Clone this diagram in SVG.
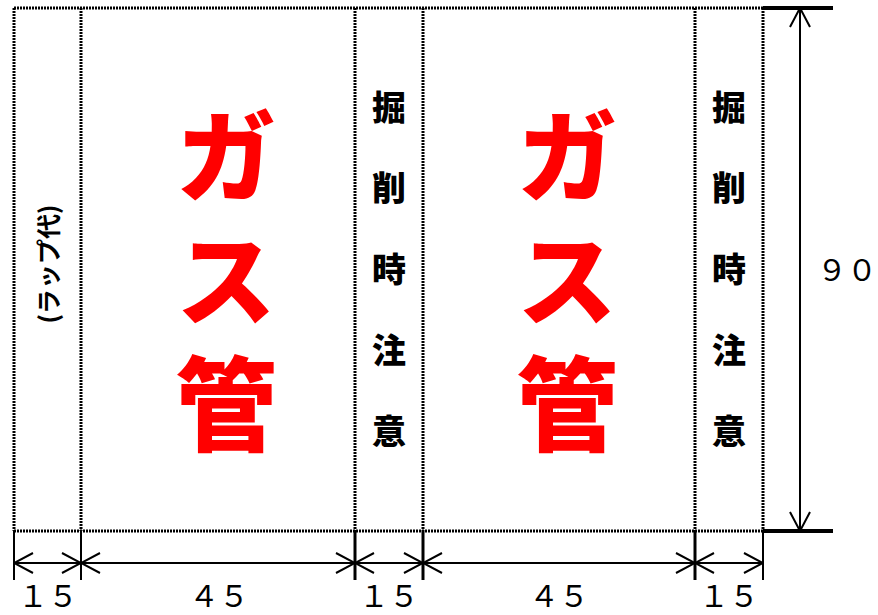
<svg xmlns="http://www.w3.org/2000/svg" width="878" height="615" viewBox="0 0 878 615">
<style>
.dot{fill:none;stroke:#000;stroke-width:3;stroke-dasharray:2 1}
.sol{fill:none;stroke:#000;stroke-width:2}
.thk{fill:none;stroke:#000;stroke-width:4}
.dim{fill:none;stroke:#000;stroke-width:2;marker-start:url(#ah);marker-end:url(#ah)}
.big{font-family:"Noto Sans CJK JP","Noto Sans CJK SC",sans-serif;font-weight:900;font-size:102px;fill:#ff0000;writing-mode:vertical-rl;letter-spacing:22px}
.warn{font-family:"Noto Sans CJK JP","Noto Sans CJK SC",sans-serif;font-weight:900;font-size:34px;fill:#000;writing-mode:vertical-rl;letter-spacing:47px}
.num{font-family:"Noto Sans CJK JP","Noto Sans CJK SC",sans-serif;font-weight:400;font-size:30px;fill:#000;text-anchor:middle}
.lap{font-family:"Noto Sans CJK JP","Noto Sans CJK SC",sans-serif;font-weight:700;font-size:25px;fill:#000;text-anchor:middle;dominant-baseline:central}
</style>
<defs>
<marker id="ah" viewBox="-21 -11 22 22" refX="0" refY="0" markerWidth="22" markerHeight="22" markerUnits="userSpaceOnUse" orient="auto-start-reverse">
<path d="M-19,-10 L0,0 L-19,10" fill="none" stroke="#000" stroke-width="2"/>
</marker>
</defs>
<rect width="878" height="615" fill="#fff"/>
<g id="panels">
<line class="dot" x1="14" y1="8" x2="763" y2="8"/>
<line class="dot" x1="14" y1="531" x2="763" y2="531"/>
<line class="dot" x1="14" y1="8" x2="14" y2="531"/>
<line class="dot" x1="81" y1="8" x2="81" y2="531"/>
<line class="dot" x1="355" y1="8" x2="355" y2="531"/>
<line class="dot" x1="423" y1="8" x2="423" y2="531"/>
<line class="dot" x1="695" y1="8" x2="695" y2="531"/>
<line class="dot" x1="763" y1="8" x2="763" y2="531"/>
</g>
<g id="lap">
<text class="lap" transform="translate(47,264) rotate(-90)">(ラップ代)</text>
</g>
<g id="gas1">
<text class="big" x="226" y="105">ガス管</text>
</g>
<g id="warn1">
<text class="warn" x="389" y="90">掘削時注意</text>
</g>
<g id="gas2">
<text class="big" x="567" y="105">ガス管</text>
</g>
<g id="warn2">
<text class="warn" x="729" y="90">掘削時注意</text>
</g>
<g id="connectors">
<line class="thk" x1="763" y1="8" x2="833" y2="8"/>
<line class="thk" x1="763" y1="531" x2="833" y2="531"/>
<line class="dim" x1="800" y1="8" x2="800" y2="531"/>
<line class="sol" x1="14" y1="531" x2="14" y2="580"/>
<line class="sol" x1="81" y1="531" x2="81" y2="580"/>
<line class="thk" x1="355" y1="531" x2="355" y2="580" style="stroke-width:3"/>
<line class="thk" x1="423" y1="531" x2="423" y2="580" style="stroke-width:3"/>
<line class="thk" x1="695" y1="531" x2="695" y2="580" style="stroke-width:3"/>
<line class="sol" x1="763" y1="531" x2="763" y2="580"/>
<line class="dim" x1="14" y1="563" x2="81" y2="563"/>
<line class="dim" x1="81" y1="563" x2="355" y2="563"/>
<line class="dim" x1="355" y1="563" x2="423" y2="563"/>
<line class="dim" x1="423" y1="563" x2="695" y2="563"/>
<line class="dim" x1="695" y1="563" x2="763" y2="563"/>
</g>
<g id="labels">
<text class="num" x="48" y="607">１５</text>
<text class="num" x="219" y="607">４５</text>
<text class="num" x="389" y="607">１５</text>
<text class="num" x="559" y="607">４５</text>
<text class="num" x="729" y="607">１５</text>
<text class="num" x="847" y="281">９０</text>
</g>
</svg>
